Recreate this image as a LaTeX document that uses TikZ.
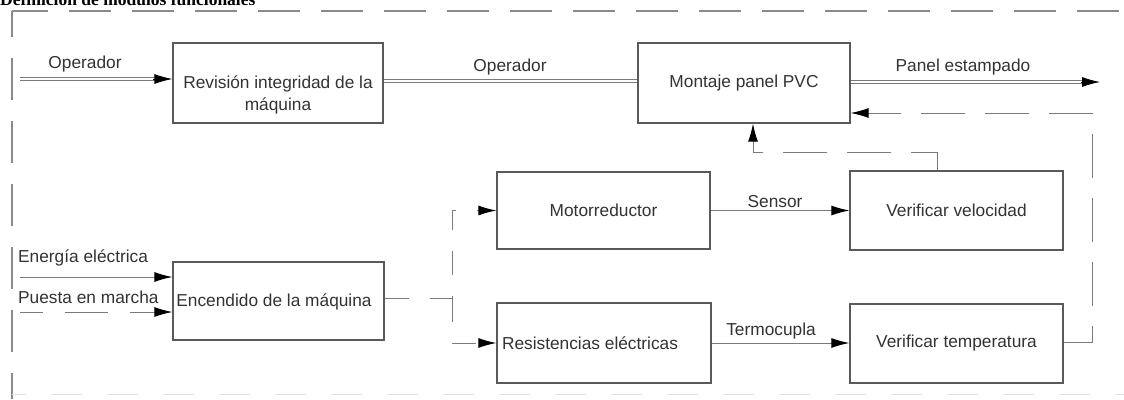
\documentclass[tikz,border=0pt]{standalone}
\usepackage{fontspec}
\setmainfont{Liberation Sans}
\newfontfamily\titlefont{Liberation Serif}
\usetikzlibrary{arrows.meta}
\definecolor{boxgray}{HTML}{5A5A5A}
\definecolor{linegray}{HTML}{7A7A7A}
\definecolor{txtgray}{HTML}{333333}
\definecolor{framegray}{HTML}{8A8A8A}
\begin{document}
\begin{tikzpicture}[x=1pt,y=-1pt,
  box/.style={draw=boxgray, line width=1.3pt, minimum height=80pt, inner sep=0pt},
  txt/.style={font=\fontsize{17.3}{22}\selectfont, text=txtgray, inner sep=1pt},
  conn/.style={draw=linegray, line width=1pt},
  dbl/.style={draw=linegray, line width=0.9pt, double=white, double distance=1.6pt},
  dsh/.style={conn, dash pattern=on 44pt off 20pt},
  dshb/.style={conn, dash pattern=on 24pt off 21pt},
  tip/.style={-{Latex[length=18pt,width=10pt,color=black]}},
  tipshort/.style={draw=black, line width=0.8pt, -{Latex[length=18pt,width=10pt,color=black]}},
  frame/.style={draw=framegray, line width=1.5pt, dash pattern=on 42pt off 21pt}
]
\clip (0,0) rectangle (1124,399);
\fill[white] (0,0) rectangle (1124,399);

% title (cut off at top)
\node[anchor=base west, inner sep=0pt, font=\titlefont\bfseries\fontsize{17.5}{20}\selectfont, text=black] (title) at (0,5) {Definición de módulos funcionales};

% outer frame
\coordinate (fc) at (12,11);
\coordinate (fb) at (12,399);
\coordinate (fr) at (1124,11);
\draw[frame, dash phase=16pt] (fc) -- (fb);
\draw[frame, dash phase=6pt] (fc) -- (fr);
\coordinate (bl) at (12,394);
\coordinate (br) at (1124,394);
\draw[draw=black!12, line width=1pt, dash pattern=on 30pt off 26pt, dash phase=-40pt] (bl) -- (br);

% boxes
\node[box, minimum width=210pt] (rev) at (278,83) {};
\node[txt, align=center] (revt) at (278,95) {Revisión integridad de la\\máquina};
\node[box, minimum width=212pt, txt] (mon) at (744,83) {Montaje panel PVC};
\node[box, minimum width=213pt, minimum height=77pt, txt] (mot) at (603.5,210.5) {Motorreductor};
\node[box, minimum width=213pt, minimum height=79pt, txt] (vel) at (956.5,210.5) {Verificar velocidad};
\node[box, minimum width=213pt, minimum height=79pt, txt] (tem) at (956.5,343.5) {Verificar temperatura};
\node[box, minimum width=214pt, minimum height=80pt] (res) at (604,343) {};
\node[txt] (rest) at (590,343) {Resistencias eléctricas};
\node[box, minimum width=211pt, minimum height=78pt] (enc) at (278.5,301) {};
\node[txt] (enct) at (274,302) {Encendido de la máquina};

% Operador in
\coordinate (opin) at (20,79);
\coordinate (opend) at (rev.west |- opin);
\draw[dbl, shorten >=16pt] (opin) -- (opend);
\draw[tipshort] ([xshift=-19pt]opend) -- (opend);
\node[txt] (lop1) at (85,64) {Operador};

% rev -> mon
\coordinate (rm) at (0,81);
\draw[dbl] (rev.east |- rm) -- (mon.west |- rm);
\node[txt] (lop2) at (510,67) {Operador};

% output
\coordinate (pout) at (1100,82);
\draw[dbl, shorten >=16pt] (mon.east |- pout) -- (pout);
\draw[tipshort] ([xshift=-19pt]pout) -- (pout);
\node[txt] (lpe) at (963,67) {Panel estampado};

% inputs to enc
\coordinate (ee) at (20,277);
\draw[conn, tip] (ee) -- (enc.west |- ee);
\node[txt, anchor=west] (lee) at (17,258) {Energía eléctrica};
\coordinate (pm) at (20,312);
\draw[conn, tip, dash pattern=on 43pt off 22pt, dash phase=20pt] (pm) -- (enc.west |- pm);
\node[txt, anchor=west] (lpm) at (17,297) {Puesta en marcha};

% branches
\coordinate (bj) at (452,298);
\draw[dshb, tip] (enc.east |- bj) -- (bj) |- (mot.west);
\draw[dshb, tip] (bj) |- (res.west);

% sensors
\draw[conn, tip] (mot.east) -- (vel.west);
\node[txt] (lsen) at (775,202) {Sensor};
\draw[conn, tip] (res.east) -- (tem.west |- res.east);
\node[txt] (lter) at (771,331) {Termocupla};

% feedback from velocidad
\coordinate (f1a) at (937,152);
\coordinate (f1b) at (753,152);
\draw[dsh, tip] (f1a |- vel.north) -- (f1a) -- (f1b) -- (f1b |- mon.south);

% feedback from temperatura
\coordinate (f2a) at (1092,342);
\coordinate (f2b) at (1092,113);
\draw[dsh, tip] (tem.east |- f2a) -- (f2a) -- (f2b) -- (mon.east |- f2b);
\end{tikzpicture}
\end{document}
